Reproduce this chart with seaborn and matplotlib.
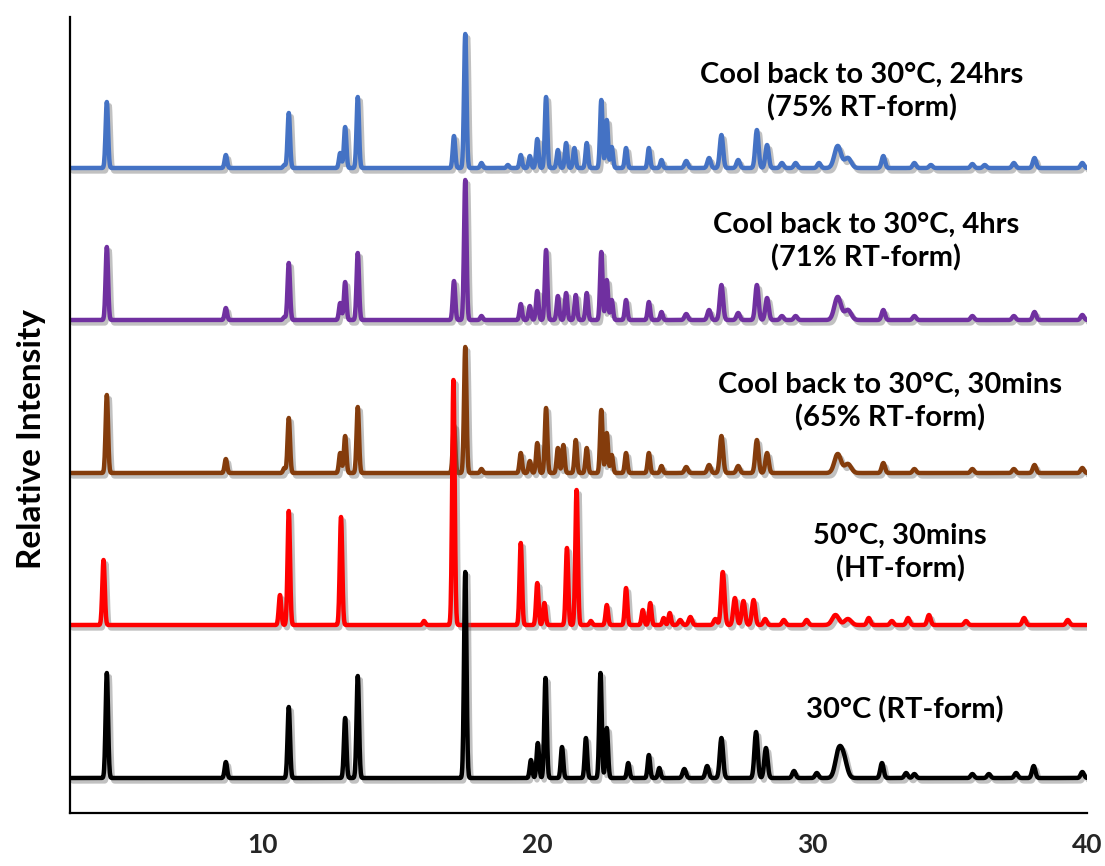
import numpy as np
import pandas as pd
import matplotlib
matplotlib.use("Agg")
import matplotlib.pyplot as plt
import matplotlib.patheffects as pe
import seaborn as sns

# ---------------- data (peak positions in 2-theta, heights in relative units) ----------------
blue_pos = [4.34, 8.67, 10.80, 10.96, 12.83, 13.01, 13.47, 16.97, 17.38, 17.97, 18.93, 19.40, 19.73, 20.00,
            20.32, 20.75, 21.05, 21.35, 21.80, 22.33, 22.53, 22.71, 23.23, 24.06, 24.52, 25.42, 26.25, 26.70,
            27.31, 27.99, 28.36, 28.90, 29.40, 30.25, 30.93, 31.30, 32.59, 33.72, 34.32, 35.83, 36.28, 37.34,
            38.09, 39.83]
blue_int = [66, 13, 3, 55, 15, 41, 71, 32, 134, 5, 3, 13, 12, 29,
            71, 18, 25, 20, 25, 68, 48, 21, 20, 20, 8, 7, 10, 33,
            8, 38, 23, 5, 5, 5, 22, 10, 12, 5, 3, 4, 3, 5,
            10, 5]

purple_pos = [4.34, 8.67, 10.80, 10.96, 12.83, 13.01, 13.47, 16.97, 17.38, 17.97, 19.40, 19.73, 20.00, 20.32,
              20.75, 21.05, 21.40, 21.80, 22.33, 22.53, 22.71, 23.23, 24.06, 24.52, 25.42, 26.25, 26.70, 27.31,
              27.99, 28.36, 28.90, 29.40, 30.93, 31.30, 32.59, 33.72, 35.83, 37.34, 38.09, 39.83]
purple_int = [73, 12, 3, 57, 17, 38, 67, 39, 140, 4, 16, 14, 29, 70,
              24, 27, 25, 27, 68, 40, 20, 20, 18, 8, 6, 10, 35, 7,
              35, 22, 4, 4, 23, 10, 10, 4, 4, 4, 8, 5]

brown_pos = [4.34, 8.67, 10.80, 10.96, 12.83, 13.01, 13.47, 16.97, 17.38, 17.97, 19.40, 19.73, 20.00, 20.32,
             20.75, 20.95, 21.40, 21.80, 22.33, 22.53, 22.71, 23.23, 24.06, 24.52, 25.42, 26.25, 26.70, 27.31,
             27.99, 28.36, 30.93, 31.30, 32.59, 33.72, 35.83, 37.34, 38.09, 39.83]
brown_int = [78, 14, 5, 55, 20, 37, 66, 48, 126, 4, 20, 12, 30, 65,
             25, 28, 33, 25, 63, 40, 18, 20, 20, 7, 6, 8, 37, 7,
             33, 20, 19, 9, 10, 4, 4, 4, 8, 5]

red_pos = [4.22, 10.64, 10.96, 12.86, 15.88, 16.95, 19.40, 20.00, 20.26, 21.08, 21.43, 21.95, 22.53, 23.23,
           23.84, 24.11, 24.60, 24.82, 25.20, 25.57, 26.48, 26.75, 27.19, 27.50, 27.87, 28.29, 28.97, 29.80,
           30.85, 31.30, 32.06, 32.90, 33.49, 34.25, 35.60, 37.71, 39.30]
red_int = [65, 30, 114, 108, 4, 245, 82, 42, 22, 77, 135, 4, 20, 37,
           15, 22, 7, 12, 5, 8, 6, 53, 27, 24, 25, 6, 5, 5,
           10, 6, 7, 4, 7, 10, 4, 7, 5]

black_pos = [4.34, 8.67, 10.96, 13.01, 13.47, 17.38, 19.77, 20.02, 20.30, 20.90, 21.77, 22.30, 22.53, 23.31,
             24.06, 24.44, 25.35, 26.18, 26.70, 27.96, 28.32, 29.34, 30.17, 30.96, 31.15, 32.54, 33.42, 33.72,
             35.83, 36.43, 37.42, 38.06, 39.83]
black_int = [105, 16, 71, 60, 102, 206, 18, 35, 100, 31, 40, 105, 50, 15,
             23, 10, 9, 12, 40, 46, 30, 7, 5, 25, 18, 15, 5, 4,
             4, 4, 5, 12, 6]

series_names = ["Cool back to 30°C, 24hrs\n(75% RT-form)",
                "Cool back to 30°C, 4hrs\n(71% RT-form)",
                "Cool back to 30°C, 30mins\n(65% RT-form)",
                "50°C, 30mins\n(HT-form)",
                "30°C (RT-form)"]
series_offsets = [645, 493, 340, 188, 35]
x_ticks = [10, 20, 30, 40]

# ---------------- build patterns ----------------
two_theta = np.arange(3.0, 40.0001, 0.01)


def pattern(pos, inten):
    pos = np.asarray(pos, float)
    inten = np.asarray(inten, float)
    sig = np.where(pos < 25, 0.045, 0.06)
    sig = np.where((pos > 30.5) & (pos < 31.5), 0.12, sig)
    y = np.zeros_like(two_theta)
    for p, h, s in zip(pos, inten, sig):
        y += h * np.exp(-0.5 * ((two_theta - p) / s) ** 2)
    return y


all_pos = [blue_pos, purple_pos, brown_pos, red_pos, black_pos]
all_int = [blue_int, purple_int, brown_int, red_int, black_int]
colors = ["#4472C4", "#7030A0", "#843C0C", "#FF0000", "#000000"]

frames = []
for name, p, h, off in zip(series_names, all_pos, all_int, series_offsets):
    frames.append(pd.DataFrame({"two_theta": two_theta, "intensity": pattern(p, h) + off, "series": name}))
df = pd.concat(frames, ignore_index=True)

# ---------------- plotting ----------------
sns.set_theme(style="white")
plt.rcParams["font.family"] = ["Lato", "DejaVu Sans"]

fig = plt.figure(figsize=(11.05, 8.66), dpi=100)
ax = fig.add_axes([70 / 1105, 1 - 813 / 866, (1087 - 70) / 1105, (813 - 17) / 866])

shadow = [pe.SimpleLineShadow(offset=(2, -2.5), shadow_color="0.4", alpha=0.4), pe.Normal()]
for name, c in zip(series_names, colors):
    sub = df[df["series"] == name]
    sns.lineplot(data=sub, x="two_theta", y="intensity", color=c, lw=3.2, ax=ax,
                 estimator=None, sort=False, legend=False)
    ax.lines[-1].set_path_effects(shadow)

# annotations
label_xy = [(31.8, 721), (31.95, 571), (32.85, 411), (33.2, 260), (33.36, 103)]
for name, (lx, ly) in zip(series_names, label_xy):
    ax.text(lx, ly, name, ha="center", va="center", multialignment="center",
            fontsize=21, fontweight="bold", linespacing=1.3, color="black")

ax.set_xlim(3, 40)
ax.set_ylim(0, 796)
ax.set_xticks(x_ticks)
ax.set_xticks(np.arange(4, 40, 2), minor=True)
ax.set_yticks([])
ax.tick_params(axis="x", which="major", direction="out", length=7.5, width=1.4, color="black",
               pad=7, labelsize=19)
ax.tick_params(axis="x", which="minor", direction="out", length=5, width=1.4, color="black")
for lab in ax.get_xticklabels():
    lab.set_fontweight("bold")
ax.set_xlabel("")
ax.set_ylabel("Relative Intensity", fontsize=24, fontweight="bold", color="black")
ax.yaxis.set_label_coords(-0.024, 0.47)

sns.despine(ax=ax)
for s in ["left", "bottom"]:
    ax.spines[s].set_color("black")
    ax.spines[s].set_linewidth(1.6)

fig.savefig("out.png", dpi=100)
